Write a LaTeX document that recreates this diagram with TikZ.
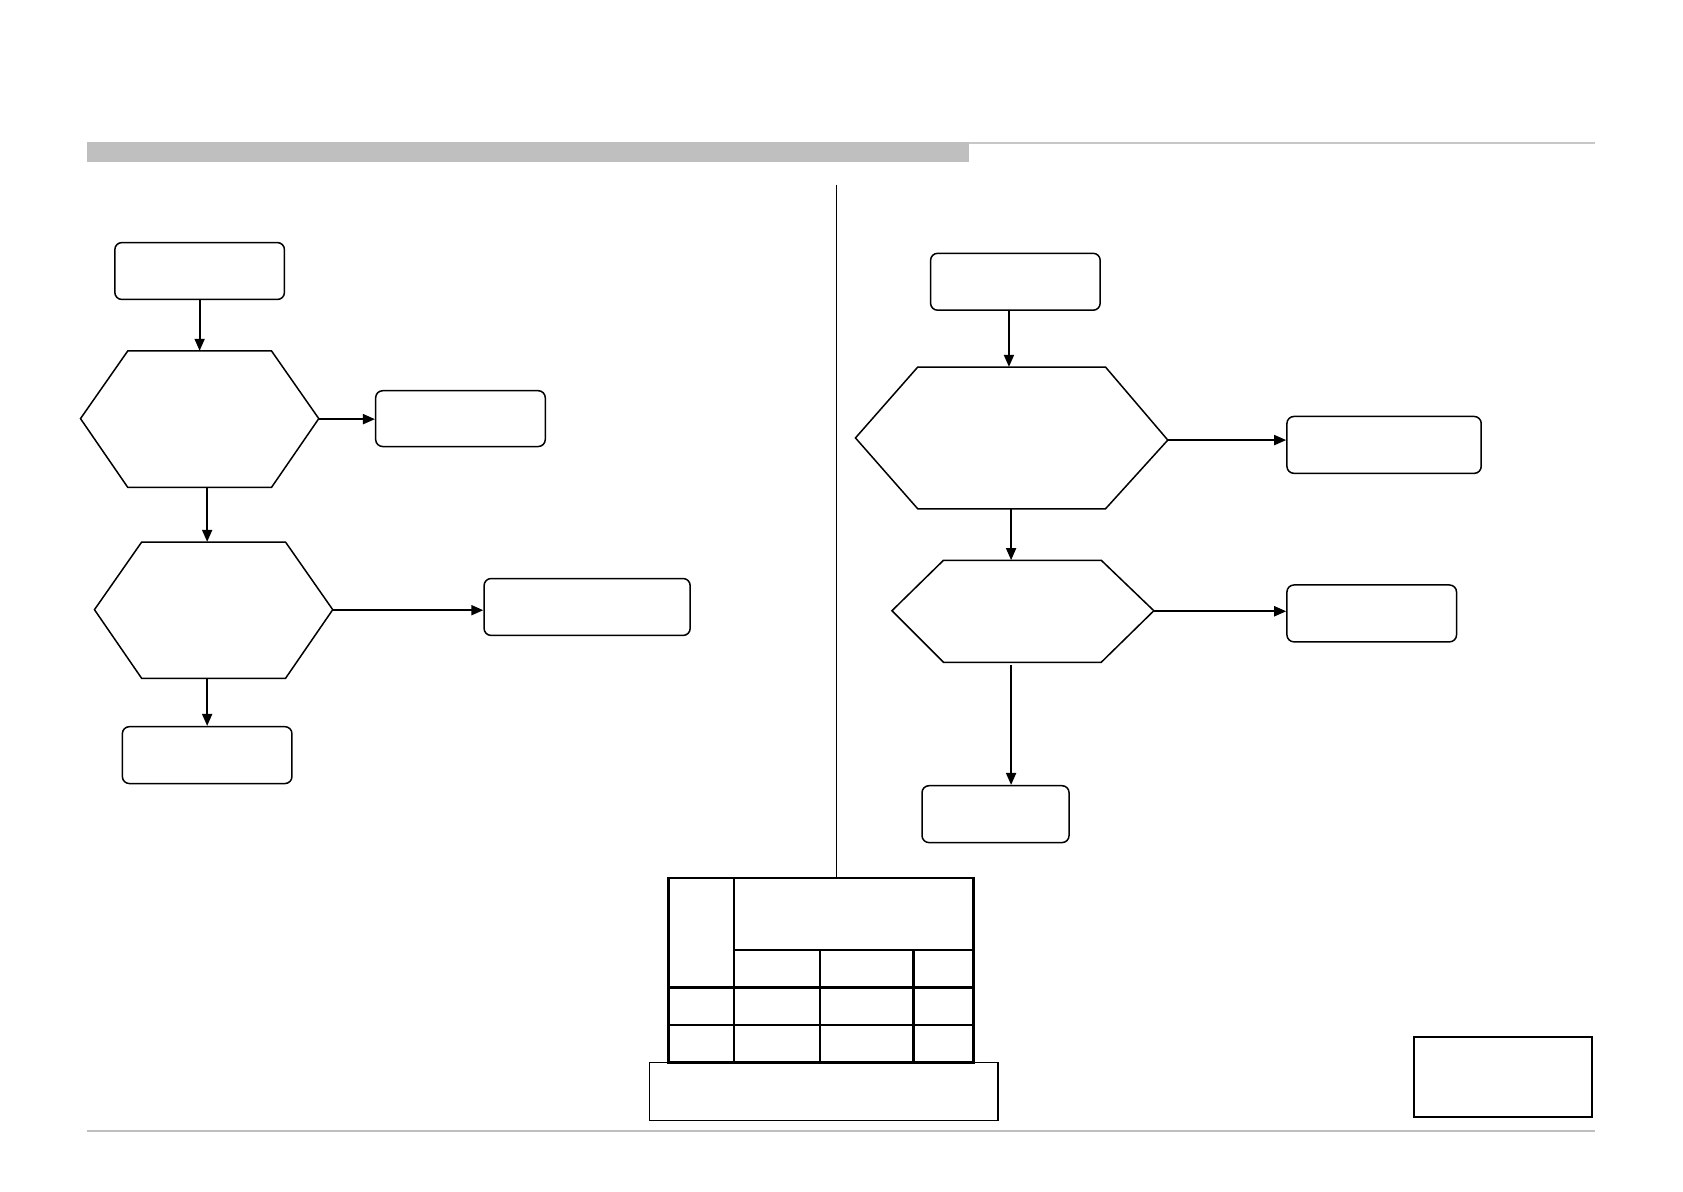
\documentclass[tikz,border=0pt]{standalone}
\usetikzlibrary{arrows.meta,fit,calc}
\begin{document}
\begin{tikzpicture}[x=1.0733pt,y=-1.0733pt,
  box/.style={draw,line width=1.5pt,rounded corners=7pt,inner sep=0pt},
  hexfit/.style={inner sep=0pt},
  hexline/.style={draw,line width=1.5pt,line join=miter},
  arr/.style={line width=1.9pt,-{Triangle[length=12pt,width=10pt]}},
  tbl/.style={line width=2.6pt},
  gray line/.style={draw=black!22}]
\useasboundingbox (0,0) rectangle (1568,1110);
% header and footer
\fill[black!25] (81,132) rectangle (903,151);
\fill[black!22] (903,132) rectangle (1486,134.2);
\fill[black!25] (81,1053.2) rectangle (1486,1055);
% divider
\draw[line width=1.1pt] (779,172) -- (779,818);
% left column
\node[box,fit={(107,226) (265,279)}] (a) {};
\draw[hexline] (75,390) -- (119,327) -- (253,327) -- (297,390) -- (253,454) -- (119,454) -- cycle;
\node[hexfit,fit={(75,327) (297,454)}] (h1) {};
\node[box,fit={(350,364) (508,416)}] (b) {};
\draw[hexline] (88,568) -- (132,505) -- (266,505) -- (310,568) -- (266,632) -- (132,632) -- cycle;
\node[hexfit,fit={(88,505) (310,632)}] (h2) {};
\node[box,fit={(451,539) (643,592)}] (c) {};
\node[box,fit={(114,677) (272,730)}] (d) {};
\draw[arr] (a.south -| h1.north) -- (h1.north);
\draw[arr] (h1.east) -- (h1.east -| b.west);
\draw[arr] (h1.south -| d.north) -- (h2.north -| d.north);
\draw[arr] (h2.east) -- (h2.east -| c.west);
\draw[arr] (h2.south -| d.north) -- (d.north);
% right column
\node[box,fit={(867,236) (1025,289)}] (e) {};
\draw[hexline] (797,408) -- (855,342) -- (1030,342) -- (1088,410) -- (1030,474) -- (855,474) -- cycle;
\node[hexfit,fit={(797,342) (1088,474)}] (h3) {};
\node[box,fit={(1199,388) (1380,441)}] (f) {};
\draw[hexline] (831,569) -- (879,522) -- (1026,522) -- (1075,569) -- (1026,617) -- (879,617) -- cycle;
\node[hexfit,fit={(831,522) (1075,617)}] (h4) {};
\node[box,fit={(1199,545) (1357,598)}] (g) {};
\node[box,fit={(859,732) (996,785)}] (hh) {};
\coordinate (e0) at (940,289);
\coordinate (h3e) at (1088,410);
\coordinate (h3s) at (942,474);
\coordinate (h4s) at (942,620);
\draw[arr] (e0) -- (e0 |- h3.north);
\draw[arr] (h3e) -- (h3e -| f.west);
\draw[arr] (h3s) -- (h3s |- h4.north);
\draw[arr] (h4.east) -- (h4.east -| g.west);
\draw[arr] (h4s) -- (h4s |- hh.north);
% table
\draw[tbl] (623,818) rectangle (907,990);
\draw[tbl] (684,818) -- (684,990);
\draw[tbl] (684,885) -- (907,885);
\draw[tbl] (623,920) -- (907,920);
\draw[tbl] (623,955) -- (907,955);
\draw[tbl] (764,885) -- (764,990);
\draw[tbl] (851,885) -- (851,990);
\draw[line width=1.7pt] (605,990) rectangle (930,1044);
% small box
\draw[line width=2pt] (1317,966) rectangle (1483,1041);
\end{tikzpicture}
\end{document}
